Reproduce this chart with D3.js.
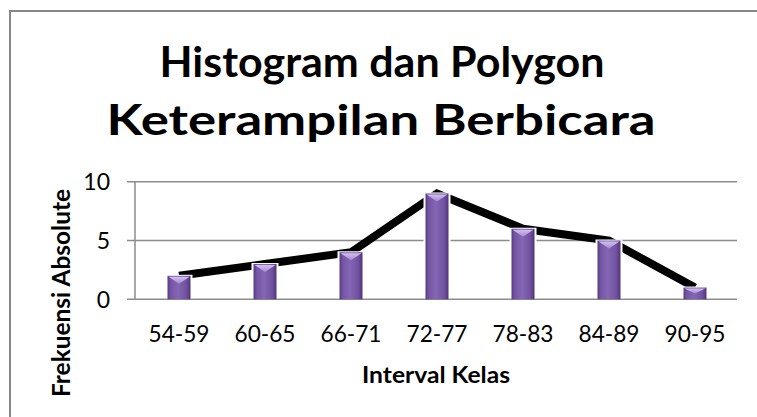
<!DOCTYPE html>
<html>
<head>
<meta charset="utf-8">
<style>
  body { margin: 0; background: #fff; }
  svg { display: block; }
  text { font-family: Lato, "Noto Sans", sans-serif; fill: #000; }
</style>
</head>
<body>
<svg width="757" height="417"></svg>
<script src="https://d3js.org/d3.v7.min.js"></script>
<script>
// data
const classes = ["54-59", "60-65", "66-71", "72-77", "78-83", "84-89", "90-95"];
const freq = [2, 3, 4, 9, 6, 5, 1];
const yTicks = [0, 5, 10];

const svg = d3.select("svg");

// outer chart frame (runs off the right / bottom edge)
svg.append("rect")
  .attr("x", 10).attr("y", 11)
  .attr("width", 780).attr("height", 440)
  .attr("fill", "none")
  .attr("stroke", "#878787")
  .attr("stroke-width", 2);

// title
const title = svg.append("text")
  .attr("text-anchor", "middle")
  .style("font-weight", "bold")
  .style("font-size", "42px");
title.append("tspan").attr("x", 382).attr("y", 77)
  .attr("textLength", 445).attr("lengthAdjust", "spacingAndGlyphs")
  .text("Histogram dan Polygon");
title.append("tspan").attr("x", 381).attr("y", 135)
  .attr("textLength", 549).attr("lengthAdjust", "spacingAndGlyphs")
  .text("Keterampilan Berbicara");

// scales
const x = d3.scaleBand()
  .domain(classes)
  .range([136, 738]);

const y = d3.scaleLinear()
  .domain([0, 10])
  .range([299.3, 181.7]);

// gridlines + tick marks
svg.append("g")
  .selectAll("line")
  .data(yTicks)
  .join("line")
    .attr("x1", 127).attr("x2", 737)
    .attr("y1", d => y(d)).attr("y2", d => y(d))
    .attr("stroke", "#8c8c8c")
    .attr("stroke-width", 1.5);

// vertical axis line
svg.append("line")
  .attr("x1", 135).attr("x2", 135)
  .attr("y1", y(10)).attr("y2", y(0))
  .attr("stroke", "#8c8c8c")
  .attr("stroke-width", 1.5);

// y tick labels
svg.append("g")
  .selectAll("text")
  .data(yTicks)
  .join("text")
    .attr("x", 110)
    .attr("y", d => y(d))
    .attr("dy", "0.36em")
    .attr("text-anchor", "end")
    .style("font-size", "23px")
    .text(d => d);

// x labels
svg.append("g")
  .selectAll("text")
  .data(classes)
  .join("text")
    .attr("x", d => x(d) + x.bandwidth() / 2)
    .attr("y", 342)
    .attr("text-anchor", "middle")
    .style("font-size", "23px")
    .attr("textLength", 61).attr("lengthAdjust", "spacingAndGlyphs")
    .text(d => d);

// axis titles
svg.append("text")
  .attr("x", 436).attr("y", 383)
  .attr("text-anchor", "middle")
  .style("font-weight", "bold")
  .style("font-size", "23px")
  .attr("textLength", 148).attr("lengthAdjust", "spacingAndGlyphs")
  .text("Interval Kelas");

svg.append("text")
  .attr("transform", "translate(70,293) rotate(-90)")
  .attr("text-anchor", "middle")
  .style("font-weight", "bold")
  .style("font-size", "25px")
  .attr("textLength", 208).attr("lengthAdjust", "spacingAndGlyphs")
  .text("Frekuensi Absolute");

// polygon line (sits behind the bars)
const pts = classes.map((c, i) => [x(c) + x.bandwidth() / 2, y(freq[i])]);
svg.append("path")
  .attr("d", d3.line()(pts))
  .attr("fill", "none")
  .attr("stroke", "#000")
  .attr("stroke-width", 8)
  .attr("stroke-linejoin", "miter");

// bar gradient
const defs = svg.append("defs");
const grad = defs.append("linearGradient").attr("id", "barGrad")
  .attr("x1", "0%").attr("x2", "100%").attr("y1", "0%").attr("y2", "0%");
[["0%", "#563b82"], ["15%", "#7556a4"], ["45%", "#8466b5"], ["80%", "#7253a2"], ["100%", "#4f3578"]]
  .forEach(s => grad.append("stop").attr("offset", s[0]).attr("stop-color", s[1]));
const capGrad = defs.append("linearGradient").attr("id", "capGrad")
  .attr("x1", "0%").attr("x2", "0%").attr("y1", "0%").attr("y2", "100%");
[["0%", "#d2c0ef"], ["100%", "#a58ad0"]]
  .forEach(s => capGrad.append("stop").attr("offset", s[0]).attr("stop-color", s[1]));

const bw = 23;
const bars = svg.append("g")
  .selectAll("g")
  .data(classes)
  .join("g");

// thin white halo so the line stops just short of each bar
bars.append("rect")
  .attr("x", d => x(d) + x.bandwidth() / 2 - bw / 2 - 2)
  .attr("y", (d, i) => y(freq[i]) - 1)
  .attr("width", bw + 4)
  .attr("height", (d, i) => y(0) - y(freq[i]))
  .attr("fill", "#fff");

bars.append("rect")
  .attr("x", d => x(d) + x.bandwidth() / 2 - bw / 2)
  .attr("y", (d, i) => y(freq[i]))
  .attr("width", bw)
  .attr("height", (d, i) => y(0) - y(freq[i]))
  .attr("fill", "url(#barGrad)");

// light bevel on the top of each bar
bars.append("path")
  .attr("d", (d, i) => {
    const cx = x(d) + x.bandwidth() / 2;
    const top = y(freq[i]);
    const h = Math.min(8, (y(0) - top) / 2);
    return `M${cx - bw / 2 + 1},${top + 1} L${cx + bw / 2 - 1},${top + 1} L${cx},${top + h} Z`;
  })
  .attr("fill", "url(#capGrad)");
</script>
</body>
</html>
